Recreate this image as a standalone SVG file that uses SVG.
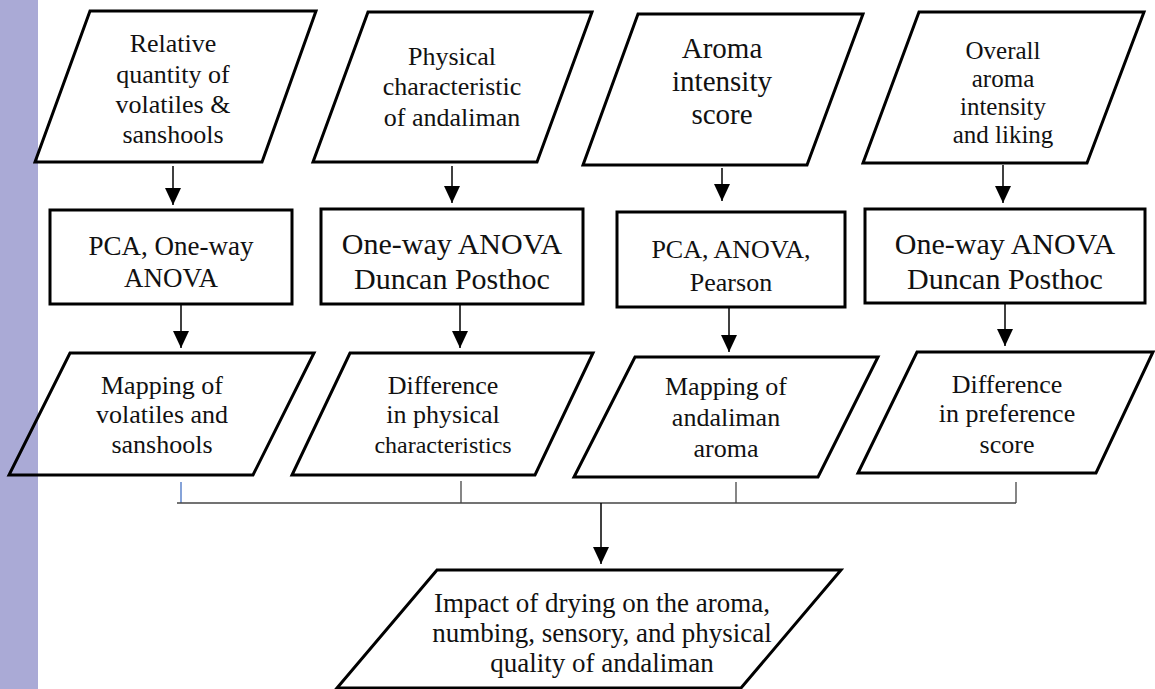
<svg xmlns="http://www.w3.org/2000/svg" width="1155" height="689" viewBox="0 0 1155 689">
  <style>
    .box { fill: none; stroke: #000; stroke-width: 3; stroke-linejoin: miter; }
    .lbl { font-family: "Liberation Serif", "Times New Roman", serif; fill: #111; text-anchor: middle; }
    .s26 { font-size: 26px; }
    .s25 { font-size: 25px; }
    .s29 { font-size: 29px; }
    .s30 { font-size: 30px; }
    .s27 { font-size: 27px; }
    .s24 { font-size: 24px; }
    .flow { stroke: #000; stroke-width: 1.5; fill: none; }
    .join { stroke: #444; stroke-width: 1.3; fill: none; }
  </style>
  <defs>
    <!-- filled arrowhead, drawn along +x so orient="auto" turns it down the line -->
    <marker id="tri" markerUnits="userSpaceOnUse" markerWidth="17" markerHeight="16" refX="17" refY="8" orient="auto" viewBox="0 0 17 16">
      <path d="M0,0 L17,8 L0,16 Z" fill="#000"/>
    </marker>
  </defs>

  <rect x="0" y="0" width="38" height="689" fill="#aaaad6"/>
  <rect x="38" y="0" width="1117" height="689" fill="#fff"/>

  <!-- input data -->
  <g id="in-volatiles">
    <polygon class="box" points="90,11 316,11 262,162 35,162"/>
    <text class="lbl s26" x="173" y="52">Relative</text>
    <text class="lbl s26" x="173" y="83">quantity of</text>
    <text class="lbl s26" x="173" y="113">volatiles &amp;</text>
    <text class="lbl s26" x="173" y="143">sanshools</text>
  </g>
  <g id="in-physical">
    <polygon class="box" points="368,12 592,12 537,162 313,162"/>
    <text class="lbl s26" x="452" y="65">Physical</text>
    <text class="lbl s26" x="452" y="95">characteristic</text>
    <text class="lbl s26" x="452" y="126">of andaliman</text>
  </g>
  <g id="in-aroma">
    <polygon class="box" points="638,14 863,14 807,165 583,165"/>
    <text class="lbl s29" x="722" y="58">Aroma</text>
    <text class="lbl s29" x="722" y="91">intensity</text>
    <text class="lbl s29" x="722" y="124">score</text>
  </g>
  <g id="in-liking">
    <polygon class="box" points="919,12 1144,12 1087,163 863,163"/>
    <text class="lbl s25" x="1003" y="59">Overall</text>
    <text class="lbl s25" x="1003" y="87">aroma</text>
    <text class="lbl s25" x="1003" y="115">intensity</text>
    <text class="lbl s25" x="1003" y="143">and liking</text>
  </g>

  <!-- analyses -->
  <g id="an-pca-anova">
    <rect class="box" x="50" y="210" width="242" height="94"/>
    <text class="lbl s27" x="171" y="255">PCA, One-way</text>
    <text class="lbl s27" x="171" y="287">ANOVA</text>
  </g>
  <g id="an-anova-duncan-1">
    <rect class="box" x="321" y="209" width="262" height="95"/>
    <text class="lbl s30" x="452" y="254">One-way ANOVA</text>
    <text class="lbl s30" x="452" y="289">Duncan Posthoc</text>
  </g>
  <g id="an-pca-pearson">
    <rect class="box" x="617" y="212" width="228" height="95"/>
    <text class="lbl s26" x="731" y="258">PCA, ANOVA,</text>
    <text class="lbl s26" x="731" y="291">Pearson</text>
  </g>
  <g id="an-anova-duncan-2">
    <rect class="box" x="865" y="209" width="280" height="94"/>
    <text class="lbl s30" x="1005" y="254">One-way ANOVA</text>
    <text class="lbl s30" x="1005" y="289">Duncan Posthoc</text>
  </g>

  <!-- results -->
  <g id="out-volatiles">
    <polygon class="box" points="70,353 314,353 253,475 9,475"/>
    <text class="lbl s26" x="162" y="394">Mapping of</text>
    <text class="lbl s26" x="162" y="423">volatiles and</text>
    <text class="lbl s26" x="162" y="453">sanshools</text>
  </g>
  <g id="out-physical">
    <polygon class="box" points="350,353 593,353 535,475 292,475"/>
    <text class="lbl s26" x="443" y="394">Difference</text>
    <text class="lbl s26" x="443" y="423">in physical</text>
    <text class="lbl s24" x="443" y="453">characteristics</text>
  </g>
  <g id="out-aroma">
    <polygon class="box" points="635,357 878,357 818,477 574,477"/>
    <text class="lbl s26" x="726" y="395">Mapping of</text>
    <text class="lbl s26" x="726" y="426">andaliman</text>
    <text class="lbl s26" x="726" y="457">aroma</text>
  </g>
  <g id="out-preference">
    <polygon class="box" points="917,352 1153,352 1096,473 858,473"/>
    <text class="lbl s26" x="1007" y="393">Difference</text>
    <text class="lbl s26" x="1007" y="422">in preference</text>
    <text class="lbl s26" x="1007" y="453">score</text>
  </g>

  <!-- conclusion -->
  <g id="impact">
    <polygon class="box" points="437,570 841,570 741,688 337,688"/>
    <text class="lbl s27" x="602" y="612">Impact of drying on the aroma,</text>
    <text class="lbl s27" x="602" y="642">numbing, sensory, and physical</text>
    <text class="lbl s27" x="602" y="672">quality of andaliman</text>
  </g>

  <g id="connectors">
    <line class="flow" x1="173" y1="166" x2="173" y2="205" marker-end="url(#tri)"/>
    <line class="flow" x1="452" y1="166" x2="452" y2="203" marker-end="url(#tri)"/>
    <line class="flow" x1="722" y1="168" x2="722" y2="201" marker-end="url(#tri)"/>
    <line class="flow" x1="1003" y1="165" x2="1003" y2="203" marker-end="url(#tri)"/>

    <line class="flow" x1="181" y1="305" x2="181" y2="348" marker-end="url(#tri)"/>
    <line class="flow" x1="460" y1="305" x2="460" y2="348" marker-end="url(#tri)"/>
    <line class="flow" x1="729" y1="308" x2="729" y2="352" marker-end="url(#tri)"/>
    <line class="flow" x1="1005" y1="304" x2="1005" y2="346" marker-end="url(#tri)"/>

    <line x1="181" y1="482" x2="181" y2="503" stroke="#4472c4" stroke-width="1.3"/>
    <line class="join" x1="461" y1="481" x2="461" y2="503"/>
    <line class="join" x1="736" y1="482" x2="736" y2="503"/>
    <line class="join" x1="1016" y1="482" x2="1016" y2="503"/>
    <line class="join" x1="177" y1="503" x2="1016" y2="503"/>
    <line class="flow" x1="601" y1="503" x2="601" y2="564" marker-end="url(#tri)"/>
  </g>
</svg>
